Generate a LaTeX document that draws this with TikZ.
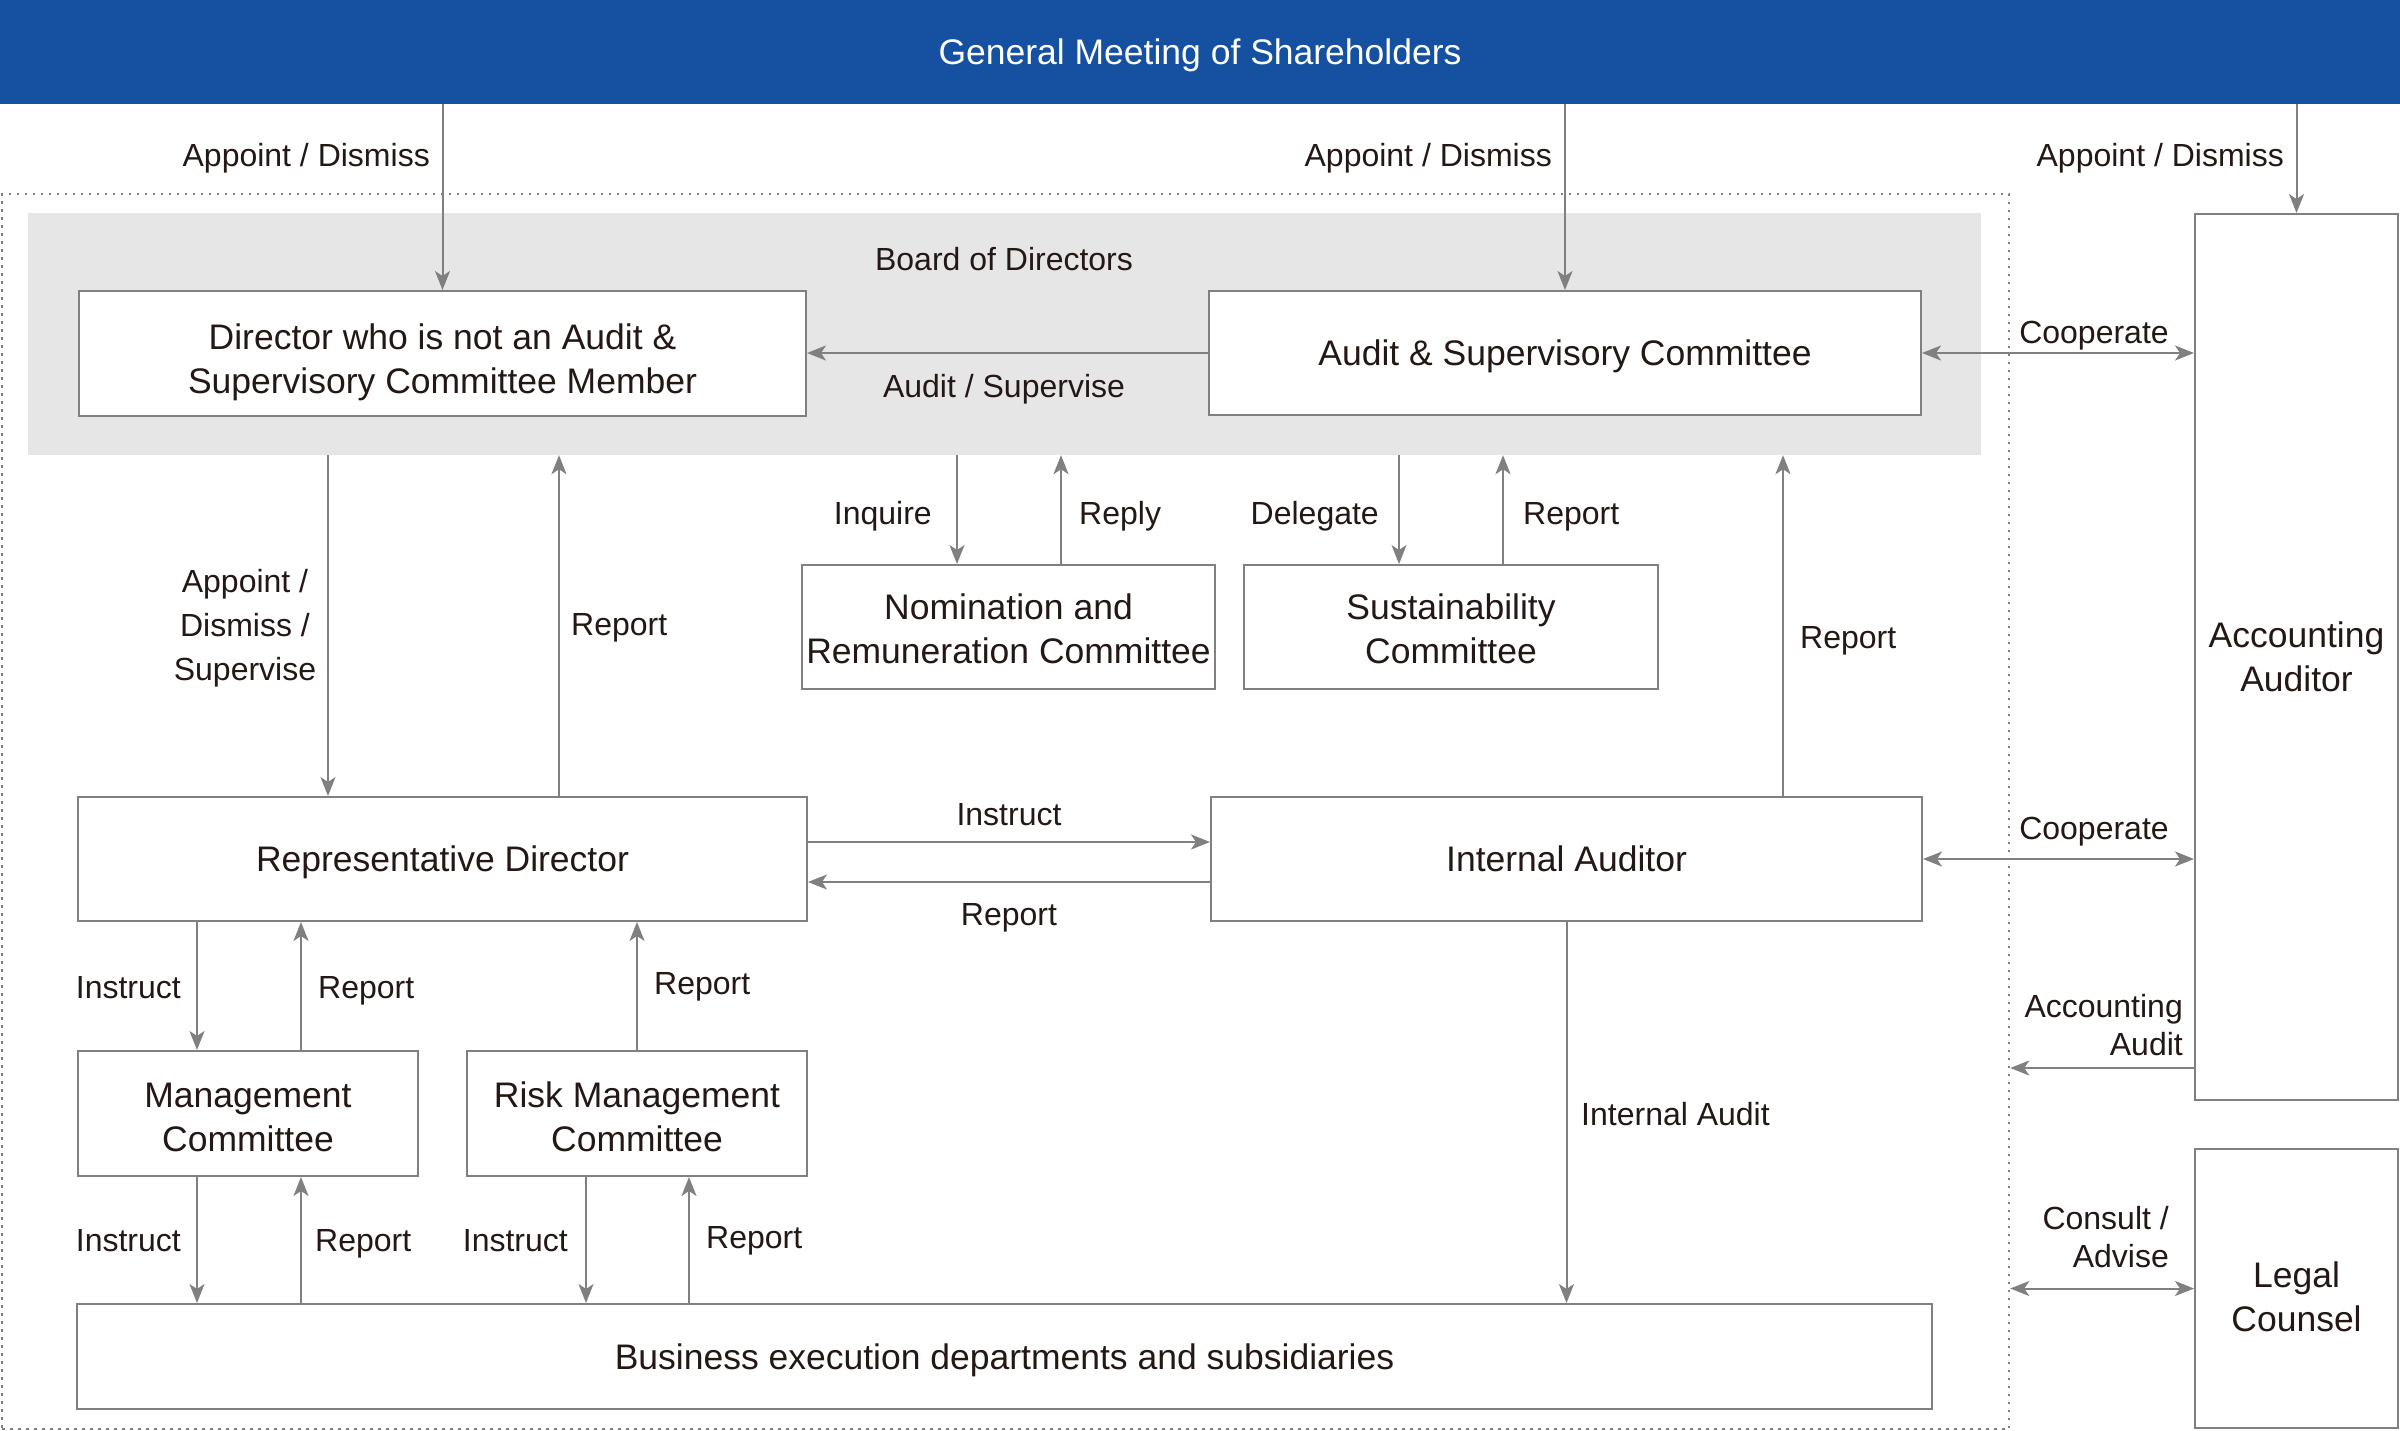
\documentclass[tikz,border=0pt]{standalone}
\usepackage{fontspec}
\setmainfont{Liberation Sans}
\usetikzlibrary{arrows.meta}
\definecolor{gmblue}{HTML}{1551A0}
\definecolor{lngray}{HTML}{808080}
\definecolor{bdgray}{HTML}{E6E6E6}
\definecolor{txtc}{HTML}{231815}
\newcommand\boxfnt{\fontsize{35.5}{44}\selectfont}
\newcommand\lblfnt{\fontsize{32}{44}\selectfont}
\newcommand\lblfntb{\fontsize{32}{38}\selectfont}
\newcommand\lift[1]{\rule{0pt}{#1}}
\begin{document}
\begin{tikzpicture}[x=1pt,y=-1pt,
  box/.style={draw=lngray, line width=2pt, fill=white, inner sep=0pt, align=center, font=\boxfnt, text=txtc},
  sbox/.style={box, text height=25.5pt, text depth=0pt},
  lbl/.style={inner sep=0pt, font=\lblfnt, text=txtc, text height=23pt, text depth=0pt},
  mlbl/.style={inner sep=0pt, font=\lblfnt, text=txtc},
  mlblb/.style={inner sep=0pt, font=\lblfntb, text=txtc},
  arr/.style={draw=lngray, line width=2pt, -{Stealth[length=19pt,width=15pt,inset=5pt]}},
  darr/.style={draw=lngray, line width=2pt, {Stealth[length=19pt,width=15pt,inset=5pt]}-{Stealth[length=19pt,width=15pt,inset=5pt]}},
  frm/.style={draw=lngray, line width=2.5pt, dash pattern=on 2.5pt off 5.5pt, inner sep=0pt},
  bandbox/.style={fill=gmblue, inner sep=0pt, text=white, font=\boxfnt, text height=25.5pt, text depth=0pt},
  boardbox/.style={fill=bdgray, inner sep=0pt}
]
\useasboundingbox (0,0) rectangle (2400,1430);
\fill[white] (0,0) rectangle (2400,1430);

% frame and board background
\node[frm, minimum width=2007pt, minimum height=1235pt] (frm) at (1005.5,811.5) {};
\node[boardbox, minimum width=1953pt, minimum height=242pt] (board) at (1004.5,334) {};
\node[bandbox, minimum width=2400pt, minimum height=104pt] (gm) at (1200,52) {General Meeting of Shareholders};

% boxes
\node[box, minimum width=727pt, minimum height=125pt] (dir) at (442.5,353.5) {\lift{44pt}Director who is not an Audit \&\\Supervisory Committee Member};
\node[sbox, minimum width=712pt, minimum height=124pt] (asc) at (1565,353) {Audit \& Supervisory Committee};
\node[box, minimum width=413pt, minimum height=124pt] (nom) at (1008.5,627) {\lift{29pt}Nomination and\\Remuneration Committee};
\node[box, minimum width=414pt, minimum height=124pt] (sus) at (1451,627) {\lift{29pt}Sustainability\\Committee};
\node[sbox, minimum width=729pt, minimum height=124pt] (rep) at (442.5,859) {Representative Director};
\node[sbox, minimum width=711pt, minimum height=124pt] (ia) at (1566.5,859) {Internal Auditor};
\node[box, minimum width=340pt, minimum height=125pt] (mgmt) at (248,1113.5) {\lift{32pt}Management\\Committee};
\node[box, minimum width=340pt, minimum height=125pt] (risk) at (637,1113.5) {\lift{32pt}Risk Management\\Committee};
\node[sbox, minimum width=1855pt, minimum height=105pt] (biz) at (1004.5,1356.5) {Business execution departments and subsidiaries};
\node[box, minimum width=203pt, minimum height=886pt] (acct) at (2296.5,657) {Accounting\\Auditor};
\node[box, minimum width=203pt, minimum height=279pt] (legal) at (2296.5,1288.5) {\lift{42pt}Legal\\Counsel};

% helper coordinates
\coordinate (xAD) at (328,0);
\coordinate (xRL) at (559,0);
\coordinate (xInq) at (957,0);
\coordinate (xRp1) at (1061,0);
\coordinate (xDel) at (1399,0);
\coordinate (xRp2) at (1503,0);
\coordinate (xRp3) at (1783,0);
\coordinate (xI1) at (197,0);
\coordinate (xR1) at (301,0);
\coordinate (xI3) at (586,0);
\coordinate (xR3) at (689,0);
\coordinate (yI) at (0,842);
\coordinate (yR) at (0,882);
\coordinate (yAA) at (0,1068);

% connectors
\draw[arr] (gm.south -| dir.north) -- (dir.north);
\draw[arr] (gm.south -| asc.north) -- (asc.north);
\draw[arr] (gm.south -| acct.north) -- (acct.north);
\draw[arr] (asc.west) -- (dir.east |- asc.west);
\draw[darr] (asc.east) -- (acct.west |- asc.east);
\draw[arr] (board.south -| xAD) -- (rep.north -| xAD);
\draw[arr] (rep.north -| xRL) -- (board.south -| xRL);
\draw[arr] (board.south -| xInq) -- (nom.north -| xInq);
\draw[arr] (nom.north -| xRp1) -- (board.south -| xRp1);
\draw[arr] (board.south -| xDel) -- (sus.north -| xDel);
\draw[arr] (sus.north -| xRp2) -- (board.south -| xRp2);
\draw[arr] (ia.north -| xRp3) -- (board.south -| xRp3);
\draw[arr] (rep.east |- yI) -- (ia.west |- yI);
\draw[arr] (ia.west |- yR) -- (rep.east |- yR);
\draw[darr] (ia.east) -- (acct.west |- ia.east);
\draw[arr] (acct.west |- yAA) -- (frm.east |- yAA);
\draw[darr] (frm.east |- legal.west) -- (legal.west);
\draw[arr] (rep.south -| xI1) -- (mgmt.north -| xI1);
\draw[arr] (mgmt.north -| xR1) -- (rep.south -| xR1);
\draw[arr] (risk.north) -- (rep.south -| risk.north);
\draw[arr] (mgmt.south -| xI1) -- (biz.north -| xI1);
\draw[arr] (biz.north -| xR1) -- (mgmt.south -| xR1);
\draw[arr] (risk.south -| xI3) -- (biz.north -| xI3);
\draw[arr] (biz.north -| xR3) -- (risk.south -| xR3);
\draw[arr] (ia.south) -- (biz.north -| ia.south);

% labels
\node[lbl, anchor=east] (l1) at (430,155) {Appoint / Dismiss};
\node[lbl, anchor=east] (l2) at (1552,155) {Appoint / Dismiss};
\node[lbl, anchor=east] (l3) at (2284,155) {Appoint / Dismiss};
\node[lbl] (l4) at (1004,259) {Board of Directors};
\node[lbl] (l5) at (1004,386) {Audit / Supervise};
\node[lbl] (l6) at (2094,332) {Cooperate};
\node[lbl] (l7) at (2094,828) {Cooperate};
\node[lbl, anchor=east] (l8) at (932,513) {Inquire};
\node[lbl, anchor=west] (l9) at (1079,513) {Reply};
\node[lbl, anchor=east] (l10) at (1379,513) {Delegate};
\node[lbl, anchor=west] (l11) at (1523,513) {Report};
\node[mlbl, align=center] (l12) at (245,624) {\lift{32.5pt}Appoint /\\Dismiss /\\Supervise};
\node[lbl, anchor=west] (l13) at (571,624) {Report};
\node[lbl, anchor=west] (l14) at (1800,637) {Report};
\node[lbl] (l15) at (1009,814) {Instruct};
\node[lbl] (l16) at (1009,914) {Report};
\node[lbl, anchor=east] (l17) at (181,987) {Instruct};
\node[lbl, anchor=west] (l18) at (318,987) {Report};
\node[lbl, anchor=west] (l19) at (654,983) {Report};
\node[lbl, anchor=east] (l20) at (181,1240) {Instruct};
\node[lbl, anchor=west] (l21) at (315,1240) {Report};
\node[lbl, anchor=east] (l22) at (568,1240) {Instruct};
\node[lbl, anchor=west] (l23) at (706,1237) {Report};
\node[lbl, anchor=west] (l24) at (1581,1114) {Internal Audit};
\node[mlblb, align=right, anchor=east] (l25) at (2183,1025) {Accounting\\Audit};
\node[mlblb, align=right, anchor=east] (l26) at (2169,1237) {Consult /\\Advise};
\end{tikzpicture}
\end{document}
